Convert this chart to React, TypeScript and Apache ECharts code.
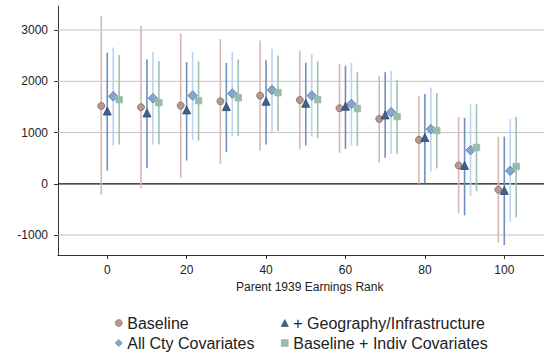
import React, { useEffect, useRef } from "react";
import * as echarts from "echarts";

const ranks = [0, 10, 20, 30, 40, 50, 60, 70, 80, 90, 100];
const xTicks = [0, 20, 40, 60, 80, 100];
const yTicks = [-1000, 0, 1000, 2000, 3000];

const baselineEst = [1519, 1494, 1526, 1610, 1721, 1636, 1474, 1266, 857, 357, -117];
const baselineLo = [-214, -91, 117, 390, 649, 669, 604, 416, 0, -578, -1149];
const baselineHi = [3273, 3078, 2935, 2825, 2799, 2597, 2338, 2104, 1714, 1305, 922];

const geoEst = [1420, 1383, 1442, 1506, 1610, 1571, 1513, 1344, 903, 357, -130];
const geoLo = [260, 305, 455, 623, 766, 747, 682, 506, 13, -617, -1195];
const geoHi = [2558, 2429, 2377, 2357, 2409, 2364, 2305, 2175, 1753, 1286, 922];

const allEst = [1708, 1669, 1721, 1760, 1831, 1721, 1558, 1396, 1065, 656, 253];
const allLo = [747, 766, 857, 935, 1006, 922, 747, 584, 240, -247, -747];
const allHi = [2662, 2578, 2578, 2571, 2636, 2532, 2364, 2201, 1877, 1552, 1260];

const indEst = [1643, 1584, 1623, 1682, 1779, 1643, 1468, 1312, 1039, 708, 338];
const indLo = [766, 773, 844, 935, 1032, 896, 740, 584, 299, -149, -656];
const indHi = [2513, 2396, 2390, 2429, 2506, 2390, 2182, 2026, 1773, 1552, 1305];

const seriesNames = [
  "Baseline",
  "+ Geography/Infrastructure",
  "All Cty Covariates",
  "Baseline + Indiv Covariates",
];

const FONT = "'Liberation Sans', Arial, Helvetica, sans-serif";

export default function App() {
  const ref = useRef<HTMLDivElement>(null);

  useEffect(() => {
    if (!ref.current) return;
    const chart = echarts.init(ref.current, undefined, { renderer: "svg" });

    const specs = [
      { name: seriesNames[0], est: baselineEst, lo: baselineLo, hi: baselineHi, off: -1.5, ci: "#d8b9b2", fill: "#b8978f", border: "#7d6863", symbol: "circle", size: 7 },
      { name: seriesNames[1], est: geoEst, lo: geoLo, hi: geoHi, off: 0, ci: "#6f90bd", fill: "#3d6190", border: "#2b4668", symbol: "triangle", size: 8 },
      { name: seriesNames[2], est: allEst, lo: allLo, hi: allHi, off: 1.5, ci: "#bdd3ef", fill: "#80a6d6", border: "#5f7088", symbol: "diamond", size: 9.5 },
      { name: seriesNames[3], est: indEst, lo: indLo, hi: indHi, off: 3, ci: "#9ec2b3", fill: "#97bcab", border: "#97bcab", symbol: "rect", size: 6.5 },
    ];

    const ciSeries = specs.map((s) => ({
      type: "custom",
      silent: true,
      z: 2,
      data: ranks.map((r, i) => [r + s.off, s.lo[i], s.hi[i]]),
      encode: { x: 0, y: [1, 2] },
      renderItem: (params: any, api: any) => {
        const x = api.value(0);
        const a = api.coord([x, api.value(1)]);
        const b = api.coord([x, api.value(2)]);
        return {
          type: "line",
          shape: { x1: a[0], y1: a[1], x2: b[0], y2: b[1] },
          style: { stroke: s.ci, lineWidth: 1.6 },
        };
      },
    }));

    const ptSeries = specs.map((s) => ({
      type: "scatter",
      name: s.name,
      z: 3,
      symbol: s.symbol,
      symbolSize: s.size,
      itemStyle: { color: s.fill, borderColor: s.border, borderWidth: 0.8, opacity: 1 },
      data: ranks.map((r, i) => [r + s.off, s.est[i]]),
    }));

    const gridSeries = {
      type: "custom",
      z: 1,
      silent: true,
      data: yTicks.map((v) => [0, v]),
      encode: { x: 0, y: 1 },
      clip: false,
      renderItem: (params: any, api: any) => {
        const v = api.value(1);
        const p = api.coord([0, v]);
        const cs = params.coordSys;
        return {
          type: "line",
          shape: { x1: cs.x, y1: p[1], x2: cs.x + cs.width, y2: p[1] },
          style: v === 0
            ? { stroke: "#111111", lineWidth: 1.2 }
            : { stroke: "#c4c4c4", lineWidth: 1 },
        };
      },
    };

    const legendPos = [
      { left: 110, top: 310 },
      { left: 276, top: 310 },
      { left: 110, top: 330 },
      { left: 276, top: 330 },
    ];

    chart.setOption({
      animation: false,
      textStyle: { fontFamily: FONT },
      grid: { left: 58, right: 0, top: 6, bottom: 100 },
      xAxis: {
        type: "value",
        min: -12.4,
        max: 110,
        splitLine: { show: false },
        axisLine: { show: true, onZero: false, lineStyle: { color: "#333333", width: 1 } },
        axisTick: { show: true, length: 4, customValues: xTicks, lineStyle: { color: "#333333" } },
        axisLabel: { customValues: xTicks, margin: 9, fontSize: 12, color: "#222222", fontFamily: FONT },
      },
      yAxis: {
        type: "value",
        min: -1390,
        max: 3470,
        splitLine: { show: false },
        axisLine: { show: true, onZero: false, lineStyle: { color: "#333333", width: 1 } },
        axisTick: { show: true, length: 4, customValues: yTicks, lineStyle: { color: "#333333" } },
        axisLabel: {
          customValues: yTicks,
          margin: 10,
          fontSize: 12,
          color: "#222222",
          fontFamily: FONT,
          formatter: (v: number) => String(v),
        },
      },
      legend: specs.map((s, i) => ({
        data: [{ name: s.name, icon: s.symbol }],
        left: legendPos[i].left,
        top: legendPos[i].top,
        itemWidth: 7,
        itemHeight: 7,
        itemGap: 0,
        selectedMode: false,
        itemStyle: { borderWidth: 0.6 },
        textStyle: { fontSize: 16, color: "#222222", fontFamily: FONT },
      })),
      graphic: [
        {
          type: "text",
          left: 310 - 74,
          top: 281,
          style: { text: "Parent 1939 Earnings Rank", fontSize: 12, fill: "#222222", fontFamily: FONT },
        },
      ],
      series: [gridSeries, ...ciSeries, ...ptSeries],
    });

    return () => chart.dispose();
  }, []);

  return (
    <div
      ref={ref}
      style={{ position: "fixed", left: 0, top: 0, width: 544, height: 355, background: "#ffffff" }}
    />
  );
}
